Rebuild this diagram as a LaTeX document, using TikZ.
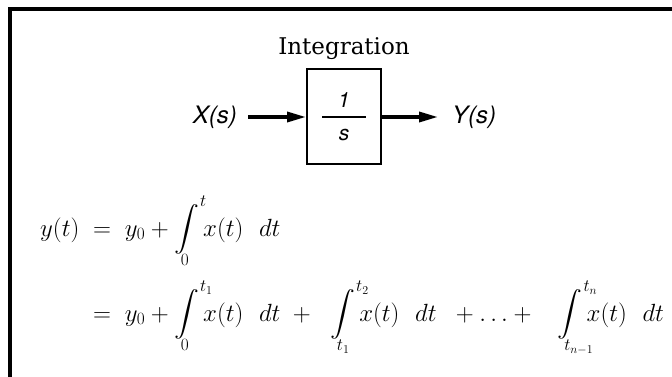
\documentclass[tikz,border=0pt]{standalone}
\usepackage{amsmath,mathtools,graphicx}
\usepackage{fontspec}
\newfontfamily\herosfont{TeX Gyre Heros}
\newfontfamily\dejaserif{DejaVu Serif}
\usetikzlibrary{arrows.meta,positioning}
% integral with its limits set close to the sign
\newcommand{\limint}[2]{\mathop{\vcenter{\hbox{\scalebox{1}[0.9]{$\displaystyle\int$}}}}%
  \limits_{\mathrlap{\mkern-6mu\smash{\raisebox{4pt}{$\scriptstyle #1$}}}}%
  ^{\mathrlap{\mkern14mu\smash{\raisebox{-7pt}{$\scriptstyle #2$}}}}}
\newcommand{\intgap}{\hspace{0.6em}}
\tikzset{
  blockbox/.style={rectangle,draw,line width=2pt,minimum width=74pt,
    minimum height=95pt,inner sep=0pt},
  signal/.style={font=\fontsize{24}{28}\selectfont\herosfont\itshape,inner sep=0pt},
  fracpart/.style={font=\fontsize{21}{24}\selectfont\herosfont\itshape,inner sep=0pt},
  flow/.style={-{Triangle[length=19pt,width=10pt]},line width=3.4pt},
  title/.style={font=\fontsize{23}{27}\selectfont\dejaserif,inner sep=0pt},
  eqline/.style={font=\fontsize{26}{30}\selectfont,inner sep=0pt,anchor=base west},
  frameline/.style={line width=3.2pt}
}

\begin{document}
\begin{tikzpicture}[x=1pt,y=-1pt]
  \useasboundingbox (0,0) rectangle (672,377);
  % frame
  \draw[frameline] (10,377) -- (10,9) -- (672,9);

  % block
  \node[blockbox] (integ) at (344,117) {};
  \node[title,anchor=base] (lbl) at (344,55) {Integration};
  \node[fracpart] (num) at (344,100) {1};
  \node[fracpart] (den) at (344,135) {s};
  \draw[line width=2pt] ([xshift=-22pt]integ.center) -- ([xshift=22pt]integ.center);

  \node[signal,anchor=east] (xin) at (237,117) {X(s)};
  \node[signal,anchor=west] (yout) at (452,117) {Y(s)};
  \draw[flow,shorten <=11pt] (xin.east) -- (integ.west);
  \draw[flow,shorten >=14pt] (integ.east) -- (yout.west);

  % equations
  \node[eqline] (lineA) at (40,236)
    {$\displaystyle y(t) \;=\; y_0 + \limint{0}{t} x(t)\intgap dt$};
  \node[eqline] (lineB) at (40,321)
    {$\displaystyle \phantom{y(t)} \;=\; y_0 + \limint{0}{t_1} x(t)\intgap dt \;+\;\;
      \limint{t_1}{t_2} x(t)\intgap dt \;\;+ \ldots +\;\;\; \limint{t_{n-1}}{t_n} x(t)\intgap dt$};
\end{tikzpicture}
\end{document}
